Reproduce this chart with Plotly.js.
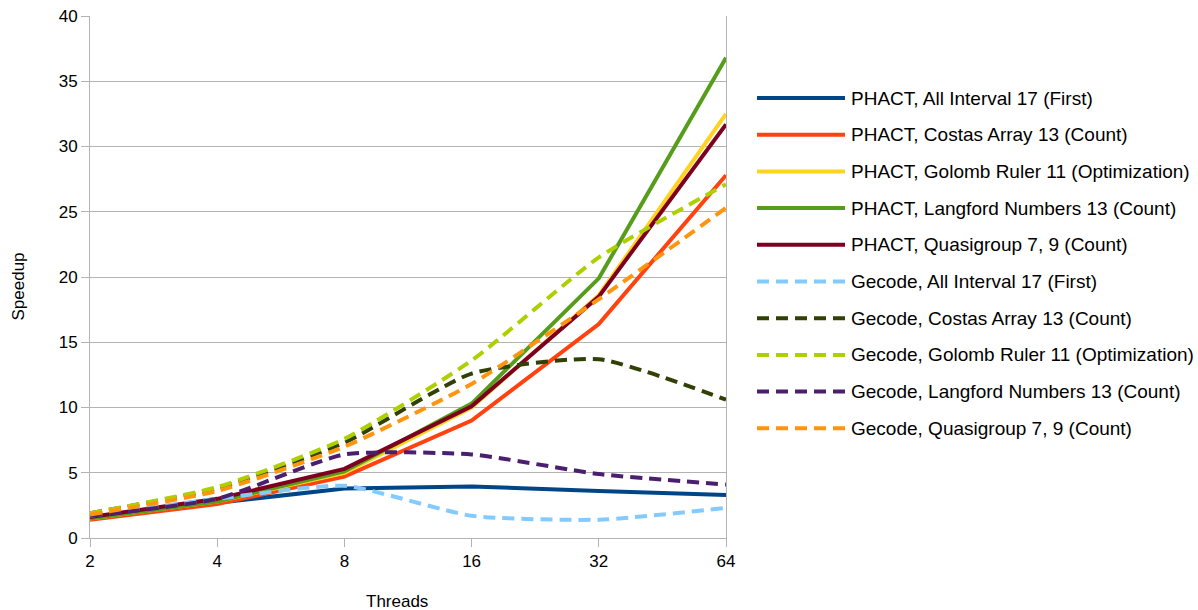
<!DOCTYPE html>
<html><head><meta charset="utf-8">
<script src="https://cdn.plot.ly/plotly-3.0.1.min.js"></script>
<style>html,body{margin:0;padding:0;background:#fff}#chart{width:1198px;height:610px}</style>
</head><body><div id="chart"></div>
<script>
const threads = ["2","4","8","16","32","64"];

const phactAllInterval = [1.5, 2.7, 3.8, 3.95, 3.6, 3.3];
const phactCostas      = [1.4, 2.6, 4.7, 9.0, 16.4, 27.8];
const phactGolomb      = [1.5, 2.8, 5.0, 10.0, 18.6, 32.5];
const phactLangford    = [1.5, 2.8, 5.1, 10.3, 19.9, 36.8];
const phactQuasigroup  = [1.6, 3.0, 5.3, 10.1, 18.5, 31.7];

const gecodeAllInterval = [1.7, 3.0, 4.0, 1.7, 1.4, 2.3];
const gecodeCostas      = [1.9, 3.8, 7.3, 12.6, 13.7, 10.6];
const gecodeGolomb      = [1.9, 3.9, 7.6, 13.6, 21.5, 27.1];
const gecodeLangford    = [1.7, 3.0, 6.4, 6.4, 4.9, 4.1];
const gecodeQuasigroup  = [1.8, 3.6, 7.0, 11.8, 18.3, 25.3];

const seriesNames = [
  "PHACT, All Interval 17 (First)",
  "PHACT, Costas Array 13 (Count)",
  "PHACT, Golomb Ruler 11 (Optimization)",
  "PHACT, Langford Numbers 13 (Count)",
  "PHACT, Quasigroup 7, 9 (Count)",
  "Gecode, All Interval 17 (First)",
  "Gecode, Costas Array 13 (Count)",
  "Gecode, Golomb Ruler 11 (Optimization)",
  "Gecode, Langford Numbers 13 (Count)",
  "Gecode, Quasigroup 7, 9 (Count)"
];
const seriesValues = [phactAllInterval, phactCostas, phactGolomb, phactLangford, phactQuasigroup,
  gecodeAllInterval, gecodeCostas, gecodeGolomb, gecodeLangford, gecodeQuasigroup];
const colors = ["#004586","#ff420e","#ffd320","#579d1c","#7e0021",
  "#83caff","#314004","#aecf00","#4b1f6f","#ff950e"];

const xTitle = "Threads";
const yTitle = "Speedup";

const DASH = "12px,7px";
const traces = seriesValues.map((vals, i) => {
  const gecode = i >= 5;
  return {
    type: "scatter", mode: "lines", name: seriesNames[i],
    x: threads, y: vals,
    line: {color: colors[i], width: 4, dash: gecode ? DASH : "solid",
           shape: gecode ? "spline" : "linear", smoothing: 0.55},
    showlegend: false, hoverinfo: "skip"
  };
});

// custom legend (LibreOffice-style long line samples)
const L = 90, R = 726, T = 16, B = 538;
const px2x = p => (p - L) / (R - L);
const px2y = p => (B - p) / (B - T);
const FONT = "Liberation Sans, Arial, sans-serif";
const shapes = [], annotations = [];
seriesNames.forEach((n, i) => {
  const yy = 98 + i * 36.7;
  shapes.push({type: "line", xref: "paper", yref: "paper",
    x0: px2x(757), x1: px2x(845), y0: px2y(yy), y1: px2y(yy),
    line: {color: colors[i], width: 4, dash: i >= 5 ? DASH : "solid"}});
  annotations.push({xref: "paper", yref: "paper", x: px2x(849), y: px2y(yy),
    xanchor: "left", yanchor: "middle", text: n, showarrow: false,
    font: {size: 19, color: "#000", family: FONT}});
});
annotations.push({xref: "paper", yref: "paper", x: px2x(396.5), y: px2y(601),
  xanchor: "center", yanchor: "middle", text: xTitle, showarrow: false,
  font: {size: 17, color: "#000", family: FONT}});
annotations.push({xref: "paper", yref: "paper", x: px2x(18), y: px2y(286.5),
  xanchor: "center", yanchor: "middle", text: yTitle, showarrow: false, textangle: -90,
  font: {size: 17, color: "#000", family: FONT}});

const layout = {
  width: 1198, height: 610,
  margin: {l: L, r: 1198 - R, t: T, b: 610 - B},
  paper_bgcolor: "#fff", plot_bgcolor: "#fff",
  font: {family: FONT, color: "#000", size: 17},
  showlegend: false,
  xaxis: {type: "category", range: [0, 5], showgrid: false, zeroline: false,
    showline: true, linecolor: "#b3b3b3", linewidth: 1, mirror: false,
    ticks: "outside", ticklen: 8, tickcolor: "#b3b3b3", tickfont: {size: 17}},
  yaxis: {range: [0, 40], dtick: 5, showgrid: true, gridcolor: "#b3b3b3", gridwidth: 1,
    zeroline: false, showline: true, linecolor: "#b3b3b3", linewidth: 1, mirror: true,
    ticks: "outside", ticklen: 8, tickcolor: "#b3b3b3", tickfont: {size: 17}},
  shapes: shapes, annotations: annotations
};

Plotly.newPlot("chart", traces, layout, {staticPlot: true, displayModeBar: false});
</script></body></html>
